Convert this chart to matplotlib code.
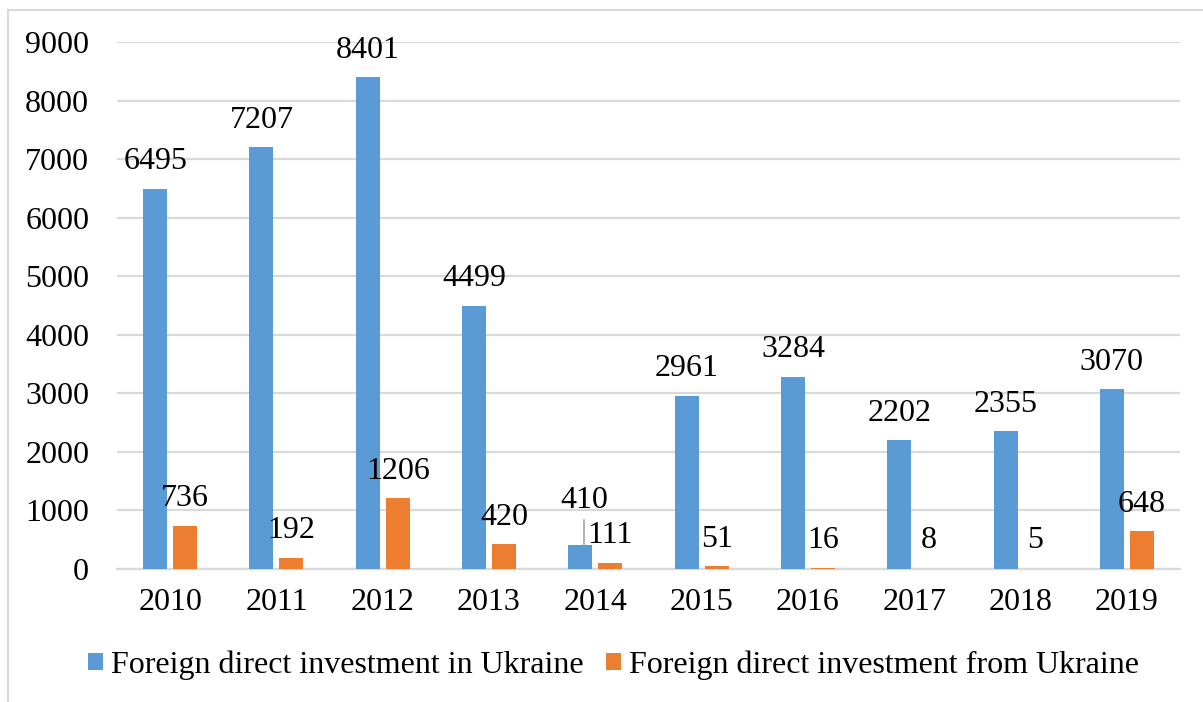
import matplotlib
matplotlib.use('Agg')
from matplotlib import pyplot as plt
from matplotlib.lines import Line2D
import numpy as np

years = ['2010', '2011', '2012', '2013', '2014', '2015', '2016', '2017', '2018', '2019']
fdi_in = [6495, 7207, 8401, 4499, 410, 2961, 3284, 2202, 2355, 3070]
fdi_from = [736, 192, 1206, 420, 111, 51, 16, 8, 5, 648]
yticks = [0, 1000, 2000, 3000, 4000, 5000, 6000, 7000, 8000, 9000]

BLUE = '#5B9BD5'
ORANGE = '#ED7D31'
GRID = '#D9D9D9'

plt.rcParams['font.family'] = ['Liberation Serif', 'DejaVu Serif']
fs = 23

fig = plt.figure(figsize=(12.03, 7.02), dpi=100)
ax = fig.add_axes([117/1203, 1 - 569/702, (1180 - 117)/1203, (569 - 42)/702])

x = np.arange(len(years))
w = 0.226
off = 0.141
ax.bar(x - off, fdi_in, w, color=BLUE, zorder=3, label='Foreign direct investment in Ukraine')
ax.bar(x + off, fdi_from, w, color=ORANGE, zorder=3, label='Foreign direct investment from Ukraine')

for i, v in enumerate(fdi_in):
	if years[i] == '2014':
		# label pushed up, with a leader line down to the bar
		ax.annotate(str(v), (x[i] - off, v), xytext=(3, 26.5), textcoords='offset points',
			ha='center', va='baseline', fontsize=fs, zorder=4)
		ax.add_line(Line2D([x[i] - off + 0.03] * 2, [v, v + 430], color='#A6A6A6', lw=1.2, zorder=4))
	else:
		ax.annotate(str(v), (x[i] - off, v), xytext=(0, 14), textcoords='offset points',
			ha='center', va='baseline', fontsize=fs, zorder=4)

for i, v in enumerate(fdi_from):
	ax.annotate(str(v), (x[i] + off, max(v, 35)), xytext=(0, 14), textcoords='offset points',
		ha='center', va='baseline', fontsize=fs, zorder=4)

ax.set_xlim(-0.5, len(years) - 0.5)
ax.set_ylim(0, 9000)
ax.set_yticks(yticks)
ax.set_xticks(x)
ax.set_xticklabels(years)
ax.tick_params(axis='both', length=0, labelsize=fs)
ax.tick_params(axis='y', pad=20)
ax.tick_params(axis='x', pad=14)
ax.yaxis.grid(True, color=GRID, lw=1.6, zorder=0)
ax.set_axisbelow(True)
for s in ['top', 'right', 'left']:
	ax.spines[s].set_visible(False)
ax.spines['bottom'].set_color(GRID)
ax.spines['bottom'].set_linewidth(1.6)

fig.legend(loc='center', bbox_to_anchor=(0.51, 1 - 665/702), ncol=2, frameon=False,
	fontsize=fs, handlelength=0.47, handleheight=0.47, handletextpad=0.25,
	columnspacing=0.7, borderaxespad=0)

# outer chart frame (cropped on the right and bottom in the source)
fig.add_artist(Line2D([8/1203, 8/1203], [0, 1 - 10/702], color=GRID, lw=1.5, transform=fig.transFigure))
fig.add_artist(Line2D([8/1203, 1], [1 - 10/702, 1 - 10/702], color=GRID, lw=1.5, transform=fig.transFigure))

plt.savefig('out.png', dpi=100)
